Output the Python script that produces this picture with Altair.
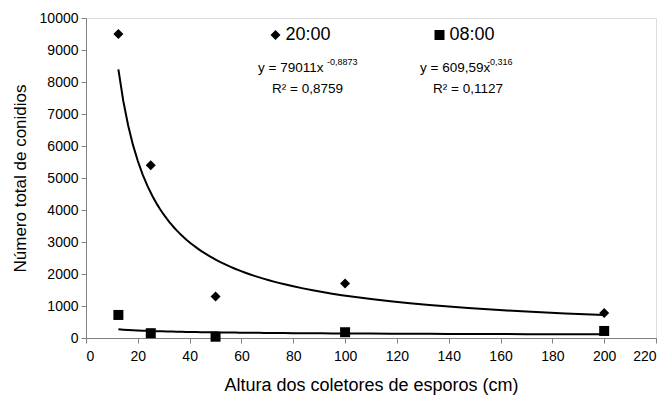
import altair as alt
import pandas as pd

# Data
alturas = [12.5, 25, 50, 100, 200]
conidios_20h = [9500, 5400, 1300, 1700, 780]
conidios_08h = [720, 150, 40, 180, 220]
series = ["20:00", "08:00"]

rows = []
for h, v in zip(alturas, conidios_20h):
    rows.append({"altura": h, "conidios": v, "serie": "20:00"})
for h, v in zip(alturas, conidios_08h):
    rows.append({"altura": h, "conidios": v, "serie": "08:00"})
df = pd.DataFrame(rows)

FONT = "Liberation Sans"

xscale = alt.Scale(domain=[0, 220], nice=False, zero=True)
yscale = alt.Scale(domain=[0, 10000], nice=False)

xaxis = alt.Axis(values=list(range(0, 221, 20)), grid=False, format="d",
                 title="Altura dos coletores de esporos (cm)",
                 titleFontSize=18, titleFontWeight="normal", titleFont=FONT,
                 titlePadding=13, labelOverlap=False,
                 labelFontSize=14, labelFont=FONT, labelPadding=6,
                 tickSize=5, domainColor="#808080", tickColor="#808080",
                 labelColor="black", titleColor="black")
yaxis = alt.Axis(values=list(range(0, 10001, 1000)), grid=False, format="d",
                 title="Número total de conidios",
                 titleFontSize=17, titleFontWeight="normal", titleFont=FONT,
                 titlePadding=10, labelOverlap=False, labelFlush=False,
                 labelFontSize=14, labelFont=FONT, labelPadding=3,
                 tickSize=5, domainColor="#808080", tickColor="#808080",
                 labelColor="black", titleColor="black")

X = alt.X("altura:Q", scale=xscale, axis=xaxis)
Y = alt.Y("conidios:Q", scale=yscale, axis=yaxis)

base = alt.Chart(df)

trend = base.transform_regression(
    "altura", "conidios", method="pow", groupby=["serie"]
).mark_line(color="black", strokeWidth=2).encode(
    x=X, y=Y, detail="serie:N",
)

points = base.mark_point(filled=True, opacity=1, color="black", size=100).encode(
    x=X, y=Y,
    shape=alt.Shape("serie:N",
                    scale=alt.Scale(domain=series, range=["diamond", "square"]),
                    legend=alt.Legend(title=None, orient="none", legendX=180.5, legendY=8,
                                      direction="horizontal", columnPadding=99,
                                      labelFontSize=18, labelFont=FONT, labelColor="black",
                                      symbolFillColor="black", symbolStrokeColor="black",
                                      symbolSize=100, labelOffset=1, padding=0)),
)

def txt(text, x, y, size=13.5):
    return alt.Chart(pd.DataFrame({"t": [text]})).mark_text(
        align="left", baseline="middle", font=FONT, fontSize=size, color="black"
    ).encode(text="t:N", x=alt.value(x), y=alt.value(y))

annotations = [
    txt("y = 79011x", 172, 50),
    txt("-0,8873", 241, 44, 9),
    txt("R² = 0,8759", 186, 71),
    txt("y = 609,59x", 334, 50),
    txt("-0,316", 401, 44, 9),
    txt("R² = 0,1127", 347, 71),
]

chart = alt.layer(trend, points, *annotations).properties(
    width=570, height=320,
    autosize=alt.AutoSizeParams(type="none"),
    padding={"left": 86, "top": 18, "right": 13, "bottom": 59},
).configure_view(stroke=None).configure(background="white")

chart.save("out.html", embed_options={"renderer": "svg", "actions": False})
